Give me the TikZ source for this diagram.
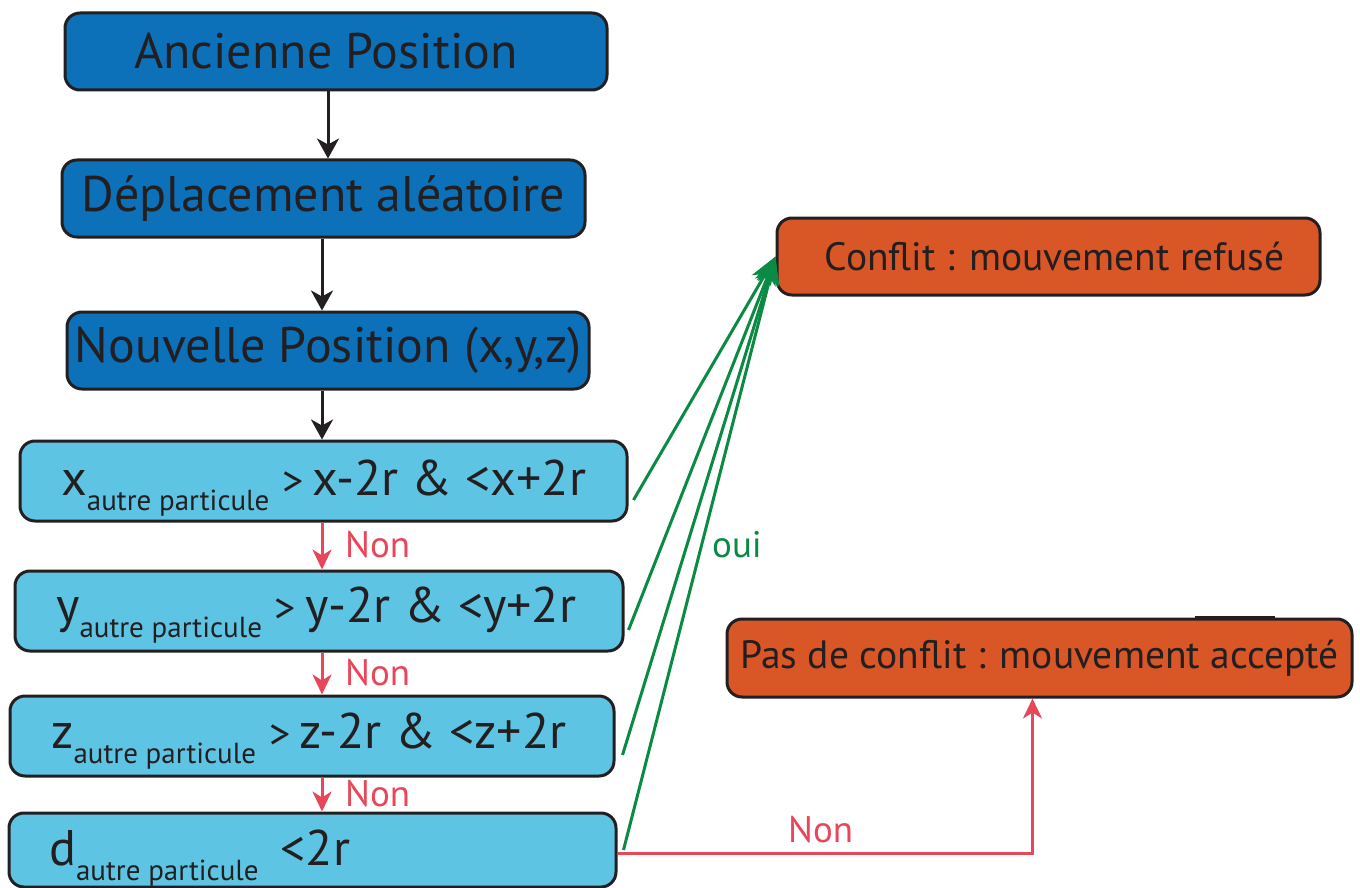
\documentclass[tikz,border=0pt]{standalone}
\usepackage{fontspec}
\setmainfont{PT Sans}
\usetikzlibrary{arrows.meta,calc}
\definecolor{dblue}{HTML}{0C71B9}
\definecolor{lblue}{HTML}{5EC4E3}
\definecolor{orng}{HTML}{D95627}
\definecolor{grn}{HTML}{0A8A42}
\definecolor{rd}{HTML}{E8475A}
\definecolor{ink}{HTML}{231F20}
\newcommand{\fs}[1]{\fontsize{#1pt}{#1pt}\selectfont}
\tikzset{
  box/.style={draw=ink, line width=3pt, rounded corners=15pt, inner sep=0pt},
  dbox/.style={box, fill=dblue, text=ink, font=\fs{50}},
  lbox/.style={box, fill=lblue},
  obox/.style={box, fill=orng, text=ink, font=\fs{39.5}},
  txt/.style={anchor=base west, inner sep=0pt, text=ink},
  blk/.style={draw=ink, line width=3pt, -{Stealth[length=20pt,width=22pt,inset=6pt]}},
  redarr/.style={draw=rd, line width=3pt, -{Stealth[length=20pt,width=19pt,inset=6pt]}},
  grnarr/.style={draw=grn, line width=3pt, -{Stealth[length=28pt,width=22pt,inset=8pt]}},
  lab/.style={inner sep=0pt, font=\fs{37}}
}
\begin{document}
\begin{tikzpicture}[x=1pt,y=-1pt]
\useasboundingbox (0,0) rectangle (1360,888);
% dark blue boxes
\node[dbox, minimum width=542pt, minimum height=77pt] (anc) at (336,51.5) {\hspace{-20pt}Ancienne Position};
\node[dbox, minimum width=523pt, minimum height=77pt] (dep) at (323.5,198.5) {Déplacement aléatoire};
\node[dbox, minimum width=522pt, minimum height=77pt] (nou) at (328,350.5) {Nouvelle Position (x,y,z)};
% light blue boxes
\node[lbox, minimum width=607pt, minimum height=80pt] (bx) at (323.5,481) {};
\node[lbox, minimum width=608pt, minimum height=80pt] (by) at (319,611) {};
\node[lbox, minimum width=604pt, minimum height=80pt] (bz) at (312,736) {};
\node[lbox, minimum width=607pt, minimum height=74pt] (bd) at (312.5,850) {};
\node[txt] (tx) at (61,495) {\fs{50}x\raisebox{-15pt}{\fs{29}autre particule}\hspace{13pt}{\fs{42}>}\hspace{9pt}x-2r \& <x+2r};
\node[txt] (ty) at (56,622) {\fs{50}y\raisebox{-15pt}{\fs{29}autre particule}\hspace{13pt}{\fs{42}>}\hspace{9pt}y-2r \& <y+2r};
\node[txt] (tz) at (51,748) {\fs{50}z\raisebox{-15pt}{\fs{29}autre particule}\hspace{13pt}{\fs{42}>}\hspace{9pt}z-2r \& <z+2r};
\node[txt] (td) at (49,865) {\fs{50}d\raisebox{-15pt}{\fs{29}autre particule}\hspace{22pt}<2r};
% orange boxes
\node[obox, minimum width=543pt, minimum height=77pt] (conf) at (1048.5,256.5) {\hspace{12pt}Conflit : mouvement refusé};
\node[obox, minimum width=625pt, minimum height=78pt] (pas) at (1039.5,658) {Pas de conflit : mouvement accepté};
\draw[ink, line width=3pt] (1195,617) -- (1275,617);
% black arrows
\draw[blk] (anc.south -| 328,0) -- (dep.north -| 328,0);
\draw[blk] (dep.south -| 322,0) -- (nou.north -| 322,0);
\draw[blk] (nou.south -| 322,0) -- (bx.north -| 322,0);
% red arrows
\draw[redarr] (bx.south -| 322,0) -- (by.north -| 322,0);
\draw[redarr] (by.south -| 322,0) -- (bz.north -| 322,0);
\draw[redarr] (bz.south -| 322,0) -- (bd.north -| 322,0);
\node[lab, text=rd, anchor=base west] (n1) at (345,557) {Non};
\node[lab, text=rd, anchor=base west] (n2) at (345,685) {Non};
\node[lab, text=rd, anchor=base west] (n3) at (345,806) {Non};
% green arrows
\coordinate (gx) at ($(bx.east)+(5,19)$);
\coordinate (gy) at ($(by.east)+(4,19)$);
\coordinate (gz) at ($(bz.east)+(7,19)$);
\coordinate (gd) at ($(bd.east)+(6,0)$);
\draw[grnarr] (gx) -- (conf.west);
\draw[grnarr] (gy) -- (conf.west);
\draw[grnarr] (gz) -- (conf.west);
\draw[grnarr] (gd) -- (conf.west);
\node[lab, text=grn, anchor=base west] (oui) at (712,557) {oui};
% red to accepted
\draw[redarr] ([yshift=-3pt]bd.east) -| ([xshift=-7pt]pas.south);
\node[lab, text=rd, anchor=base west] (n4) at (788,842) {Non};
\end{tikzpicture}
\end{document}
